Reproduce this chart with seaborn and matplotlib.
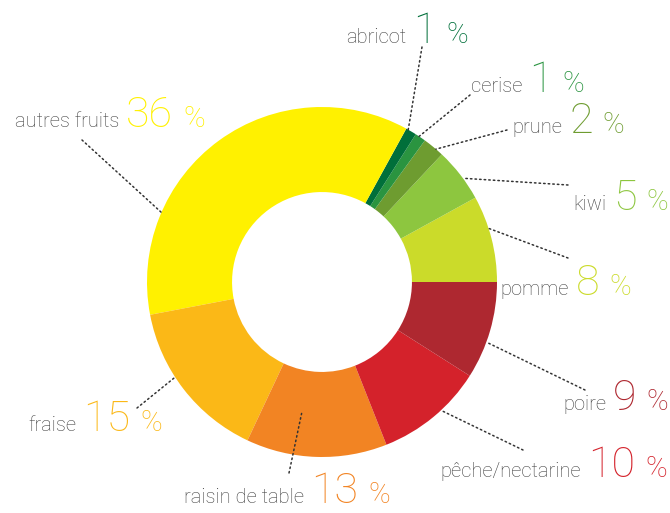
import numpy as np
import matplotlib
matplotlib.use('Agg')
import matplotlib.pyplot as plt
import seaborn as sns

# data (order = counterclockwise from 3 o'clock)
fruits = ['pomme', 'kiwi', 'prune', 'cerise', 'abricot', 'autres fruits',
          'fraise', 'raisin de table', 'pêche/nectarine', 'poire']
shares = [8, 5, 2, 1, 1, 36, 15, 13, 10, 9]
colors = ['#cbdb2a', '#8dc63f', '#6e9c30', '#2a9440', '#006f3a', '#fff100',
          '#fbb817', '#f28423', '#d4222b', '#ae2830']

# label layout in pixels: junction x, baseline y, leader start (x, y),
# leader end as (fraction of wedge angle, radius)
layout = {
    'pomme': (570, 295, 568, 258, 0.62, 1.0),
    'kiwi': (607, 210, 568, 185, 0.42, 1.0),
    'prune': (563, 133, 507, 130, 0.36, 1.0),
    'cerise': (523, 92, 470, 95, 0.64, 1.0),
    'abricot': (407, 43, 422, 47, 0.8, 1.0),
    'autres fruits': (120, 127, 82, 140, 0.736, 1.0),
    'fraise': (77, 431, 137, 408, 0.41, 1.0),
    'raisin de table': (305, 503, 289, 473, 0.35, 0.76),
    'pêche/nectarine': (582, 477, 523, 450, 0.59, 1.0),
    'poire': (607, 410, 585, 390, 0.38, 1.0),
}

sns.set_theme(style='white')
plt.rcParams['font.family'] = ['Roboto', 'DejaVu Sans']

W, H = 670, 513
fig = plt.figure(figsize=(W / 100, H / 100), dpi=100)
cx, cy, R = 322, 282, 175


def fx(x, y):
    return x / W, 1 - y / H


ax = fig.add_axes([(cx - R) / W, (H - cy - R) / H, 2 * R / W, 2 * R / H])
wedges, _ = ax.pie(shares, colors=colors, startangle=0, counterclock=True,
                   radius=1.0, wedgeprops=dict(width=0.486, linewidth=0))
ax.set_xlim(-1, 1)
ax.set_ylim(-1, 1)
ax.axis('off')

gray = '#404040'
nums = []
for w, name, val, col in zip(wedges, fruits, shares, colors):
    jx, by, lx, ly, frac, rr = layout[name]
    ang = np.deg2rad(w.theta1 + frac * (w.theta2 - w.theta1))
    ax.annotate('', xy=(rr * np.cos(ang), rr * np.sin(ang)), xycoords='data',
                xytext=fx(lx, ly), textcoords='figure fraction',
                arrowprops=dict(arrowstyle='-', color='#333333', lw=1.1,
                                ls=(0, (1, 2)), shrinkA=0, shrinkB=0))
    fig.text(*fx(jx - 1, by), name, ha='right', va='baseline', fontsize=14.5,
             color=gray, fontweight='light')
    t = fig.text(*fx(jx + 6, by), str(val), ha='left', va='baseline',
                 fontsize=31, color=col, fontweight='light')
    nums.append((t, by, col))

fig.canvas.draw()
r = fig.canvas.get_renderer()
for t, by, col in nums:
    bb = t.get_window_extent(r)
    fig.text(bb.x1 / W + 10 / W, 1 - by / H, '%', ha='left', va='baseline',
             fontsize=21, color=col, fontweight='light')

fig.savefig('out.png', dpi=100)
